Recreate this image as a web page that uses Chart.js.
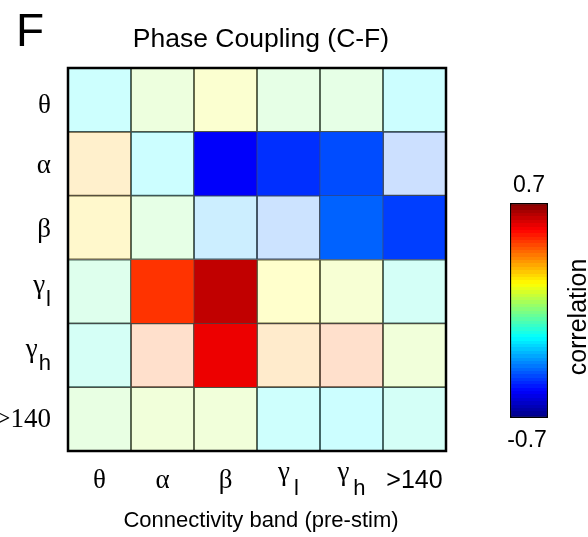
<!DOCTYPE html>
<html>
<head>
<meta charset="utf-8">
<script src="https://cdn.jsdelivr.net/npm/chart.js@4.4.0/dist/chart.umd.min.js"></script>
<style>
  body { margin: 0; background: #fff; }
  #wrap { position: relative; width: 588px; height: 537px; }
  #heat { position: absolute; left: 0; top: 0; }
  #cbar { position: absolute; left: 470px; top: 160px; }
</style>
</head>
<body>
<div id="wrap">
  <canvas id="heat" width="588" height="537"></canvas>
  <canvas id="cbar" width="118" height="300"></canvas>
</div>
<script>
// band names (rows = phase band, columns = connectivity band)
const bandNames = ['θ', 'α', 'β', 'γ', 'γ', '>140'];
const bandSubs = ['', '', '', 'l', 'h', ''];
const colLabels = ['θ', 'α', 'β', 'γl', 'γh', '>140'];

// correlation per row, read left -> right
const rowTheta  = [-0.17, 0.05, 0.15, 0.00, 0.00, -0.18];
const rowAlpha  = [0.28, -0.18, -0.53, -0.46, -0.42, -0.39];
const rowBeta   = [0.22, 0.00, -0.29, -0.37, -0.39, -0.44];
const rowGammaL = [-0.05, 0.455, 0.61, 0.175, 0.12, -0.12];
const rowGammaH = [-0.11, 0.39, 0.55, 0.315, 0.39, 0.08];
const rowHigh   = [0.02, 0.08, 0.08, -0.16, -0.18, -0.12];

// cells drawn at full colour [row, col]; the rest are faded
const sigCells = [[1, 2], [1, 3], [1, 4], [2, 4], [2, 5], [3, 1], [3, 2], [4, 2]];

const cMin = -0.7, cMax = 0.7;

const rows = [rowTheta, rowAlpha, rowBeta, rowGammaL, rowGammaH, rowHigh];
const SANS = '"Liberation Sans", Arial, Helvetica, sans-serif';
const SERIF = '"Liberation Serif", "Times New Roman", serif';

function jet(v) {
    const t = Math.min(1, Math.max(0, (v - cMin) / (cMax - cMin)));
    const c = x => Math.round(255 * Math.min(1, Math.max(0, 1.5 - Math.abs(x))));
    return [c(4 * t - 3), c(4 * t - 2), c(4 * t - 1)];
}

function cellColor(v, i, j) {
    const [r, g, b] = jet(v);
    const sig = sigCells.some(s => s[0] === i && s[1] === j);
    return sig ? `rgb(${r},${g},${b})` : `rgba(${r},${g},${b},0.2)`;
}

// draws a band name with optional subscript
function drawBand(ctx, name, sub, x, y, align, baseFont, gap, subDy) {
    ctx.font = baseFont;
    const wb = ctx.measureText(name).width;
    ctx.font = '22px ' + SANS;
    const ws = sub ? ctx.measureText(sub).width + gap : 0;
    let left = align === 'center' ? x - (wb + ws) / 2 : x - wb - ws;
    ctx.textAlign = 'left';
    ctx.textBaseline = 'alphabetic';
    ctx.font = baseFont;
    ctx.fillText(name, left, y);
    if (sub) {
        ctx.font = '22px ' + SANS;
        ctx.fillText(sub, left + wb + gap, y + subDy);
    }
}

const heatLabels = {
    id: 'heatLabels',
    afterDraw(chart) {
        const { ctx, chartArea: a, scales: { x, y } } = chart;
        ctx.save();
        ctx.strokeStyle = '#000';
        ctx.lineWidth = 2.5;
        ctx.strokeRect(a.left, a.top, a.right - a.left, a.bottom - a.top);

        ctx.fillStyle = '#000';
        ctx.textAlign = 'left';
        ctx.font = '46px ' + SANS;
        ctx.fillText('F', 16, 46);
        ctx.textAlign = 'center';
        ctx.font = '26.5px ' + SANS;
        ctx.fillText('Phase Coupling (C-F)', 261, 47);
        ctx.font = '22px ' + SANS;
        ctx.fillText('Connectivity band (pre-stim)', 261, 527);

        // x axis labels
        bandNames.forEach((name, i) => {
            const cx = x.getPixelForValue(i);
            const isGamma = name === 'γ';
            const font = i === 5 ? '25px ' + SANS : '27px ' + SERIF;
            drawBand(ctx, name, bandSubs[i], cx, isGamma ? 480 : 488, 'center', font, 4, 15);
        });
        // y axis labels
        const yOff = { 'θ': 13, 'α': 9, 'β': 9, 'γ': 2, '>140': 8 };
        bandNames.forEach((name, i) => {
            const cy = y.getPixelForValue(i + 0.5);
            drawBand(ctx, name, bandSubs[i], 51, cy + yOff[name], 'right', '27px ' + SERIF, 1, 13);
        });
        ctx.restore();
    }
};

new Chart(document.getElementById('heat'), {
    type: 'bar',
    data: {
        labels: colLabels,
        datasets: rows.map((vals, i) => ({
            label: colLabels[i],
            data: vals.map(() => 1),
            backgroundColor: vals.map((v, j) => cellColor(v, i, j)),
            borderColor: '#444',
            borderWidth: 0.6,
            borderSkipped: false,
            barPercentage: 1,
            categoryPercentage: 1
        }))
    },
    options: {
        responsive: false,
        animation: false,
        layout: { padding: { left: 68, right: 142, top: 68, bottom: 86 } },
        scales: {
            x: { display: false, stacked: true },
            y: { display: false, stacked: true, min: 0, max: 6, reverse: true }
        },
        plugins: {
            legend: { display: false },
            tooltip: { enabled: false }
        }
    },
    plugins: [heatLabels]
});

// colour bar
const cbarText = {
    id: 'cbarText',
    afterDraw(chart) {
        const ctx = chart.ctx;
        ctx.save();
        ctx.fillStyle = '#000';
        ctx.textAlign = 'center';
        ctx.textBaseline = 'alphabetic';
        ctx.font = '23px ' + SANS;
        ctx.fillText(String(cMax), 59, 32);
        ctx.fillText(String(cMin), 57, 287);
        ctx.translate(116, 157);
        ctx.rotate(-Math.PI / 2);
        ctx.font = '25px ' + SANS;
        ctx.fillText('correlation', 0, 0);
        ctx.restore();
    }
};

function jetFill(context) {
    const area = context.chart.chartArea;
    if (!area) return null;
    const g = context.chart.ctx.createLinearGradient(0, area.bottom, 0, area.top);
    const n = 64;
    for (let k = 0; k < n; k++) {
        const [r, gg, b] = jet(cMin + (cMax - cMin) * (k + 0.5) / n);
        const col = `rgb(${r},${gg},${b})`;
        g.addColorStop(k / n, col);
        g.addColorStop((k + 1) / n, col);
    }
    return g;
}

new Chart(document.getElementById('cbar'), {
    type: 'bar',
    data: {
        labels: ['correlation'],
        datasets: [{
            data: [[cMin, cMax]],
            backgroundColor: jetFill,
            borderColor: '#000',
            borderWidth: 1.5,
            borderSkipped: false,
            barPercentage: 1,
            categoryPercentage: 1
        }]
    },
    options: {
        responsive: false,
        animation: false,
        layout: { padding: { left: 40, right: 40, top: 43, bottom: 42 } },
        scales: {
            x: { display: false },
            y: { display: false, min: cMin, max: cMax }
        },
        plugins: {
            legend: { display: false },
            tooltip: { enabled: false }
        }
    },
    plugins: [cbarText]
});
</script>
</body>
</html>
